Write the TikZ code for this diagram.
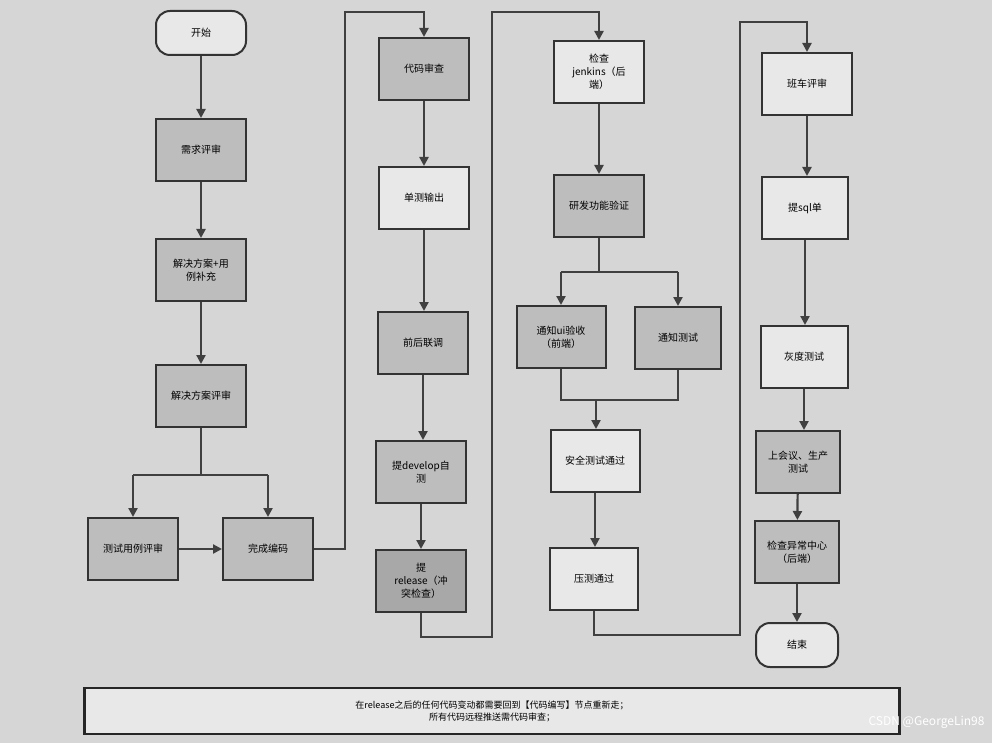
\documentclass[tikz,border=0pt]{standalone}
\usepackage{fontspec}
\setmainfont{Noto Sans CJK SC}
\usetikzlibrary{arrows.meta}
\definecolor{bg}{HTML}{D6D6D6}
\definecolor{lt}{HTML}{E8E8E8}
\definecolor{dk}{HTML}{BDBDBD}
\definecolor{dkk}{HTML}{A8A8A8}
\tikzset{
 box/.style={draw=black!80,line width=2pt,minimum width=#1,minimum height=62pt,align=center,font=\fontsize{10}{13}\selectfont,fill=lt},
 box/.default=90pt,
 gbox/.style={box=#1,fill=dk},
 gbox/.default=90pt,
 term/.style={draw=black!80,line width=2pt,rounded corners=14pt,minimum width=#1,minimum height=44pt,font=\fontsize{10}{13}\selectfont,fill=lt},
 link/.style={draw=black!75,line width=2.2pt},
 arr/.style={link,-{Triangle[length=9pt,width=9pt]}}
}
\begin{document}
\begin{tikzpicture}[x=1pt,y=-1pt]
\fill[bg] (0,0) rectangle (992,743);
\useasboundingbox (0,0) rectangle (992,743);
% column 1
\node[term=90pt] (start) at (201,33) {开始};
\node[gbox] (a1) at (201,150) {需求评审};
\node[gbox] (a2) at (201,270) {解决方案+用\\例补充};
\node[gbox] (a3) at (201,396) {解决方案评审};
\node[gbox] (a4) at (133,549) {测试用例评审};
\node[gbox] (a5) at (268,549) {完成编码};
% column 2
\node[gbox] (b1) at (424,69) {代码审查};
\node[box] (b2) at (424,198) {单测输出};
\node[gbox] (b3) at (423,343) {前后联调};
\node[gbox] (b4) at (421,472) {提develop自\\测};
\node[box=90pt,fill=dkk] (b5) at (421,581) {提\\release（冲\\突检查）};
% column 3
\node[box] (c1) at (599,72) {检查\\jenkins（后\\端）};
\node[gbox] (c2) at (599,206) {研发功能验证};
\node[gbox=89pt] (c3) at (561,337) {通知ui验收\\（前端）};
\node[gbox=86pt] (c4) at (678,338) {通知测试};
\node[box=89pt] (c5) at (595,461) {安全测试通过};
\node[box=88pt] (c6) at (594,579) {压测通过};
% column 4
\node[box] (d1) at (807,84) {班车评审};
\node[box=86pt] (d2) at (805,208) {提sql单};
\node[box=87pt] (d3) at (804,357) {灰度测试};
\node[gbox=84pt] (d4) at (798,462) {上会议、生产\\测试};
\node[gbox=84pt] (d5) at (797,552) {检查异常中心\\（后端）};
\node[term=82pt] (end) at (797,645) {结束};
% note
\node[draw=black!85,line width=2.5pt,minimum width=815pt,minimum height=46pt,align=center,font=\fontsize{9}{12}\selectfont,fill=lt] (note) at (492,711) {在release之后的任何代码变动都需要回到【代码编写】节点重新走；\\所有代码远程推送需代码审查；};
\node[font=\fontsize{12}{14}\selectfont,text=white,anchor=east] (wm) at (988,722) {CSDN @GeorgeLin98};
% connectors col1
\draw[arr] (start) -- (a1);
\draw[arr] (a1) -- (a2);
\draw[arr] (a2) -- (a3);
\coordinate (s1) at (201,475);
\draw[link] (a3.south) -- (s1);
\draw[link] (a4.north |- s1) -- (a5.north |- s1);
\draw[arr] (a4.north |- s1) -- (a4.north);
\draw[arr] (a5.north |- s1) -- (a5.north);
\draw[arr] (a4) -- (a5);
\draw[arr] (a5.east) -- (345,549) -- (345,12) -- (b1.north |- 0,12) -- (b1.north);
% col2
\draw[arr] (b1) -- (b2);
\draw[arr] (b2.south) -- (b3.north -| b2.south);
\draw[arr] (b3.south) -- (b4.north -| b3.south);
\draw[arr] (b4) -- (b5);
\draw[arr] (b5.south) -- (b5.south |- 0,637) -- (492,637) -- (492,12) -- (c1.north |- 0,12) -- (c1.north);
% col3
\draw[arr] (c1) -- (c2);
\coordinate (s2) at (599,272);
\draw[link] (c2.south) -- (s2);
\draw[link] (c3.north |- s2) -- (c4.north |- s2);
\draw[arr] (c3.north |- s2) -- (c3.north);
\draw[arr] (c4.north |- s2) -- (c4.north);
\coordinate (m2) at (596,400);
\draw[link] (c3.south) -- (c3.south |- m2) -- (c4.south |- m2) -- (c4.south);
\draw[arr] (m2) -- (c5.north -| m2);
\draw[arr] (c5.south) -- (c6.north -| c5.south);
\draw[arr] (c6.south) -- (c6.south |- 0,635) -- (740,635) -- (740,22) -- (d1.north |- 0,22) -- (d1.north);
% col4
\draw[arr] (d1.south) -- (d2.north -| d1.south);
\draw[arr] (d2.south) -- (d3.north -| d2.south);
\draw[arr] (d3.south) -- (d4.north -| d3.south);
\draw[arr] (d4) -- (d5);
\draw[arr] (d5) -- (end);
\end{tikzpicture}
\end{document}
